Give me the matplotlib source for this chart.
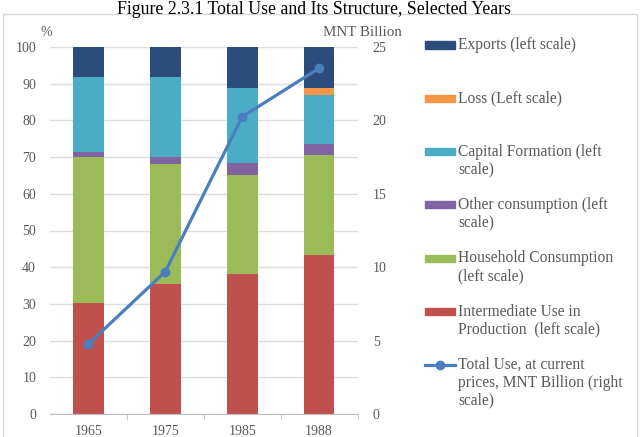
import matplotlib
matplotlib.use("Agg")
import matplotlib.pyplot as plt
from matplotlib.patches import Rectangle
from matplotlib.lines import Line2D
import numpy as np

plt.rcParams['font.family'] = ['Liberation Serif', 'DejaVu Serif']

years = ["1965", "1975", "1985", "1988"]
intermediate = [30.2, 35.3, 38.1, 43.3]
household = [39.7, 32.8, 27.1, 27.3]
other = [1.6, 2.0, 3.1, 3.1]
capital = [20.2, 21.6, 20.6, 13.2]
loss = [0.2, 0.2, 0.0, 1.8]
exports = [8.1, 8.1, 11.1, 11.3]
total_use = [4.77, 9.7, 20.25, 23.55]

series = [
    ("Intermediate Use in\nProduction  (left scale)", intermediate, "#C0504D"),
    ("Household Consumption\n(left scale)", household, "#9BBB59"),
    ("Other consumption (left\nscale)", other, "#8064A2"),
    ("Capital Formation (left\nscale)", capital, "#4BACC6"),
    ("Loss (Left scale)", loss, "#F79646"),
    ("Exports (left scale)", exports, "#2C4C7C"),
]
line_label = "Total Use, at current\nprices, MNT Billion (right\nscale)"
line_color = "#4A7EBF"

W, H = 642, 437
fig = plt.figure(figsize=(W / 100, H / 100), dpi=100)

def fx(px):
    return px / W

def fy(py):
    return 1 - py / H

# chart border
fig.patches.append(Rectangle((fx(3), fy(440)), fx(637) - fx(3), fy(14) - fy(440),
                             transform=fig.transFigure, fill=False,
                             edgecolor="#D9D9D9", linewidth=1))

left, right, top, bottom = 50, 357.5, 47, 414
ax = fig.add_axes([fx(left), fy(bottom), fx(right) - fx(left), fy(top) - fy(bottom)])
x = np.arange(len(years))
base = np.zeros(len(years))
for label, vals, color in series:
    ax.bar(x, vals, width=0.4, bottom=base, color=color, zorder=2, label=label)
    base = base + np.array(vals)

ax.set_xlim(-0.5, len(years) - 0.5)
ax.set_ylim(0, 100)
ax.set_yticks(np.arange(0, 101, 10))
ax.yaxis.grid(True, color="#DDDDDD", linewidth=1, zorder=0)
ax.set_axisbelow(True)
for s in ["left", "right", "top"]:
    ax.spines[s].set_visible(False)
ax.spines["bottom"].set_color("#BFBFBF")
ax.set_xticks(x)
ax.set_xticklabels(years)
ax.set_xticks(np.arange(0.5, len(years), 1), minor=True)
ax.tick_params(axis="x", which="major", length=0, labelsize=10, labelcolor="#595959", pad=8)
ax.tick_params(axis="x", which="minor", length=4, color="#BFBFBF")
ax.tick_params(axis="y", length=0, labelsize=10, labelcolor="#595959", pad=10)

ax2 = ax.twinx()
ax2.plot(x, total_use, color=line_color, linewidth=2.3, marker="o", markersize=6, zorder=5)
ax2.set_ylim(0, 25)
ax2.set_yticks(np.arange(0, 26, 5))
for s in ax2.spines.values():
    s.set_visible(False)
ax2.tick_params(axis="y", length=0, labelsize=10, labelcolor="#595959", pad=11)

fig.text(fx(46), fy(33), "%", fontsize=10, color="#595959", ha="center", va="center")
fig.text(fx(402), fy(33), "MNT Billion", fontsize=10.8, color="#595959", ha="right", va="center")
fig.text(fx(314), fy(0.5), "Figure 2.3.1 Total Use and Its Structure, Selected Years",
         fontsize=12.8, color="#000000", ha="center", va="top")

# legend (top-aligned, evenly spaced entries)
entries = [(lab, col) for lab, _, col in reversed(series)]
step = 53.3
fs = 11.2
for i, (lab, col) in enumerate(entries):
    yc = 45 + step * i
    fig.patches.append(Rectangle((fx(425), fy(yc + 3.5)), fx(455) - fx(425), fy(yc - 3.5) - fy(yc + 3.5),
                                 transform=fig.transFigure, color=col))
    fig.text(fx(458), fy(yc - 8), lab, fontsize=fs, color="#595959", ha="left", va="top",
             linespacing=1.15)
yc = 45 + step * len(entries)
fig.lines.append(Line2D([fx(425), fx(455)], [fy(yc), fy(yc)], transform=fig.transFigure,
                        color=line_color, linewidth=2.3, marker=None))
fig.lines.append(Line2D([fx(440)], [fy(yc)], transform=fig.transFigure,
                        color=line_color, marker="o", markersize=6))
fig.text(fx(458), fy(yc - 8), line_label, fontsize=fs, color="#595959", ha="left", va="top",
         linespacing=1.15)

fig.savefig("out.png", dpi=100)
